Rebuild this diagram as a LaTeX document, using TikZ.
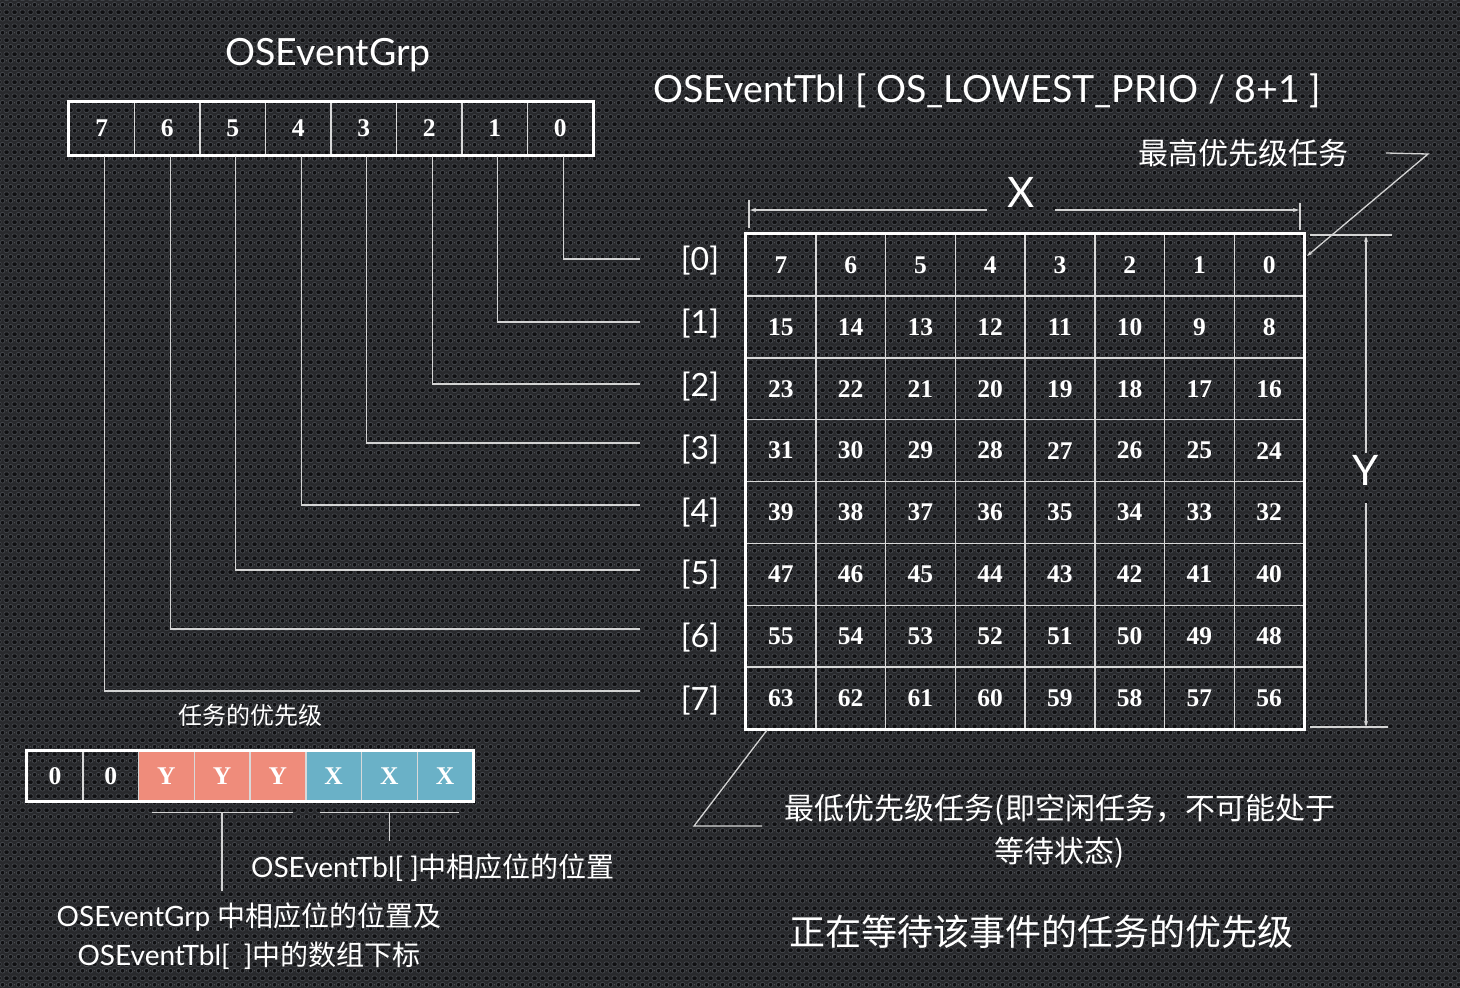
\documentclass[tikz,border=0pt]{standalone}
\usepackage{fontspec}
\setmainfont{Lato}
\newfontfamily\cjk{Noto Sans CJK SC}
\newfontfamily\bitfont{Liberation Serif}
\usetikzlibrary{arrows.meta,patterns.meta}
\definecolor{bgmetal}{HTML}{28292C}
\definecolor{bghole}{HTML}{0F0F11}
\definecolor{bgrim}{HTML}{44474C}
\definecolor{wire}{HTML}{D4D4D4}
\definecolor{ycell}{HTML}{EF8C7B}
\definecolor{xcell}{HTML}{6AB1C7}
\tikzdeclarepattern{name=holes,type=colored,
  bottom left={(0pt,0pt)},top right={(8pt,14pt)},tile size={(8pt,14pt)},
  code={\filldraw[fill=bghole,draw=bgrim,line width=0.8pt]
    (4pt,3.5pt) circle (2.6pt) (0pt,10.5pt) circle (2.6pt) (8pt,10.5pt) circle (2.6pt);}}
\begin{document}
\begin{tikzpicture}[x=1pt,y=-1pt,
  bitcell/.style={draw=white!85!black,line width=1.5pt,inner sep=0pt,text=white,
    minimum width=65.5pt,minimum height=53pt,font=\bitfont\bfseries\fontsize{25.5}{25.5}\selectfont},
  tblcell/.style={bitcell,minimum width=69.75pt,minimum height=61.875pt},
  lowcell/.style={bitcell,minimum width=55.75pt,minimum height=50pt},
  frame/.style={draw=white,line width=3pt},
  wire/.style={draw=wire,line width=1.3pt},
  dim/.style={wire,-{Stealth[length=6pt,width=4pt]}},
  title/.style={text=white,inner sep=0pt,font=\fontsize{37.5}{37.5}\selectfont},
  rowlbl/.style={text=white,inner sep=0pt,font=\fontsize{32}{32}\selectfont},
  dimlbl/.style={text=white,inner sep=0pt,font=\fontsize{42}{42}\selectfont},
  note/.style={text=white,inner sep=0pt,align=center,font=\cjk\fontsize{30}{43}\selectfont},
  mix/.style={text=white,inner sep=0pt,align=center,font=\fontsize{28}{39}\selectfont}]
\fill[bgmetal] (0,0) rectangle (1460,988);
\fill[pattern=holes] (0,0) rectangle (1460,988);
\useasboundingbox (0,0) rectangle (1460,988);
\node[title] (grpname) at (328,55) {OSEventGrp};
\node[title] (tblname) at (987,91) {OSEventTbl [ OS\_LOWEST\_PRIO / 8+1 ]};
\foreach \k in {0,...,7} {
  \pgfmathtruncatemacro\b{7-\k}
  \node[bitcell] (g\b) at ({101.75+65.5*\k},128.5) {\b};
}
\draw[frame] (g7.north west) rectangle (g0.south east);
\foreach \b/\y in {0/259,1/322,2/384,3/443,4/505,5/570,6/629,7/691} {
  \coordinate (e\b) at (640,\y);
  \draw[wire] ([xshift=3pt]g\b.south) |- (e\b);
}
\foreach \i in {0,...,7}
  \node[rowlbl] (r\i) at (700,{261+62.8*\i}) {[\i]};
\foreach \i in {0,...,7}
  \foreach \j in {0,...,7} {
    \pgfmathtruncatemacro\n{8*\i+7-\j}
    \node[tblcell] (t\i\j) at ({780.875+69.75*\j},{264.94+61.875*\i}) {\n};
  }
\draw[frame] (t00.north west) rectangle (t77.south east);
\node[dimlbl,inner xsep=20pt] (xlbl) at (1021,192) {X};
\coordinate (xl) at (750,210);
\coordinate (xr) at (1299,210);
\draw[dim] (xlbl.west |- xl) -- (xl);
\draw[dim] (xlbl.east |- xr) -- (xr);
\draw[wire] (749,200) -- (749,228);
\draw[wire] (1300,203) -- (1300,230);
\node[dimlbl] (ylbl) at (1366,470) {Y};
\coordinate (yt) at (1366,236);
\coordinate (yb) at (1366,727);
\draw[dim] ([yshift=2pt]ylbl.north) -- (yt);
\draw[dim] ([yshift=-18pt]ylbl.south) -- (yb);
\draw[wire] (1310,235) -- (1392,235);
\draw[wire] (1310,727) -- (1388,727);
\node[note] (hi) at (1243,153) {最高优先级任务};
\coordinate (hibend) at (1428,154);
\coordinate (hitip) at (1307,256);
\draw[dim] ([xshift=38pt]hi.east) -- (hibend) -- (hitip);
\node[note] (lo) at (1060,831) {最低优先级任务(即空闲任务，不可能处于\\等待状态)};
\coordinate (lobend) at (694,826);
\draw[wire] ([xshift=22pt]t70.south west) -- (lobend) -- ++(68,0);
\node[note,font=\cjk\fontsize{36}{36}\selectfont] (waitprio) at (1041,932) {正在等待该事件的任务的优先级};
\node[note,font=\cjk\fontsize{24}{24}\selectfont] (prio) at (250,715) {任务的优先级};
\foreach \k/\t/\c in {0/0/none,1/0/none,2/Y/ycell,3/Y/ycell,4/Y/ycell,5/X/xcell,6/X/xcell,7/X/xcell}
  \node[lowcell,fill=\c] (p\k) at ({54.875+55.75*\k},776) {\t};
\draw[frame] (p0.north west) rectangle (p7.south east);
\draw[wire] ([shift={(14pt,-11pt)}]p2.south west) -- ([shift={(-14pt,-11pt)}]p4.south east);
\draw[wire] ([yshift=-11pt]p3.south) -- ++(0,-78pt);
\draw[wire] ([shift={(15pt,-11pt)}]p5.south west) -- ([shift={(-15pt,-11pt)}]p7.south east);
\draw[wire] ([yshift=-11pt]p6.south) -- ++(0,-28pt);
\node[mix] (tblpos) at (433,868) {OSEventTbl[ ]{\cjk 中相应位的位置}};
\node[mix] (grppos) at (249,936) {OSEventGrp {\cjk 中相应位的位置及}\\OSEventTbl[\ \ ]{\cjk 中的数组下标}};
\end{tikzpicture}
\end{document}
